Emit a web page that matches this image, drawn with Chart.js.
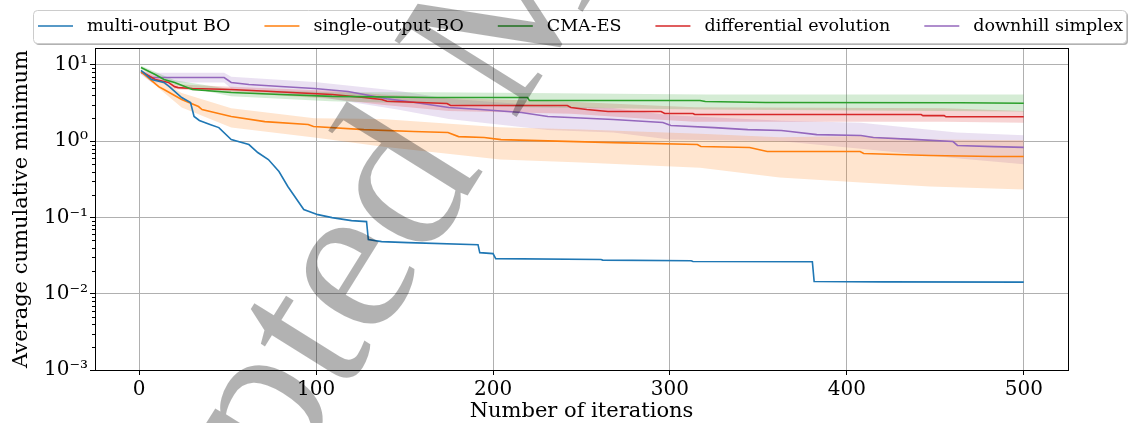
<!DOCTYPE html>
<html>
<head>
<meta charset="utf-8">
<script src="https://cdn.jsdelivr.net/npm/chart.js@4"></script>
<style>
  html, body { margin: 0; padding: 0; background: #fff; }
  #wrap { width: 1129px; height: 423px; }
</style>
</head>
<body>
<div id="wrap"><canvas id="chart" width="1129" height="423"></canvas></div>
<script>
// Data
const multiX = [1, 7, 14, 17, 24, 29, 31, 34, 40, 45, 52, 62, 67, 73, 79, 84, 93, 101, 109, 120, 128.5, 129.5, 137, 152, 191.5, 192.5, 200, 201.5, 261, 262, 312, 313, 380.5, 381.5, 420, 500];
const multiY = [8.5, 6.45, 5.9, 5.2, 3.74, 3.22, 2.11, 1.87, 1.66, 1.51, 1.05, 0.905, 0.711, 0.575, 0.40, 0.255, 0.127, 0.109, 0.0997, 0.091, 0.0883, 0.0513, 0.0482, 0.0468, 0.044, 0.0346, 0.0336, 0.0289, 0.0281, 0.0276, 0.0271, 0.0265, 0.0263, 0.0145, 0.0143, 0.0142];

const singleX = [1, 11, 14, 24, 33.5, 35.5, 42.5, 52, 71, 95.5, 98.5, 127, 155, 174.5, 180.5, 195, 204.5, 268, 315.5, 317.5, 345, 355, 407.5, 409.5, 447, 483, 500];
const singleY = [8.2, 5.2, 4.77, 3.53, 2.85, 2.6, 2.38, 2.11, 1.81, 1.66, 1.56, 1.42, 1.34, 1.30, 1.15, 1.12, 1.05, 0.96, 0.905, 0.852, 0.826, 0.732, 0.732, 0.69, 0.649, 0.63, 0.63];
const singleBandX = [1, 24, 52, 99, 137, 204, 250, 317, 362, 408, 447, 500];
const singleLo = [7.8, 2.76, 1.51, 1.12, 0.85, 0.575, 0.525, 0.45, 0.335, 0.287, 0.255, 0.232];
const singleHi = [8.6, 4.3, 2.71, 2.0, 1.95, 1.52, 1.42, 1.25, 1.13, 1.17, 1.05, 1.03];

const cmaX = [1, 9, 14, 20, 30, 52, 80, 109, 165, 219.5, 220.5, 317, 320, 354, 464, 500];
const cmaY = [9.27, 7.5, 6.45, 5.9, 4.77, 4.35, 4.11, 3.87, 3.75, 3.75, 3.42, 3.42, 3.32, 3.22, 3.19, 3.15];
const cmaBandX = [1, 20, 52, 108, 165, 220, 320, 500];
const cmaLo = [8.8, 5.5, 3.9, 3.35, 3.1, 2.8, 2.6, 2.45];
const cmaHi = [9.8, 6.3, 4.8, 4.4, 4.4, 4.3, 4.1, 4.1];

const deX = [1, 9, 16.5, 20, 22, 30, 52, 109, 127, 137, 140, 174, 176, 242, 244, 253, 265, 295, 297, 313, 314, 442, 443, 455, 456, 500];
const deY = [8.2, 6.45, 5.9, 5.2, 5.05, 4.92, 4.77, 4.1, 3.75, 3.53, 3.35, 3.12, 2.94, 2.94, 2.77, 2.61, 2.45, 2.45, 2.31, 2.31, 2.24, 2.24, 2.17, 2.17, 2.09, 2.09];
const deBandX = [1, 20, 52, 108, 137, 175, 244, 297, 314, 455, 500];
const deLo = [7.8, 4.8, 4.35, 3.6, 3.0, 2.5, 2.3, 1.9, 1.8, 1.8, 1.75];
const deHi = [8.6, 5.6, 5.2, 4.6, 4.1, 3.7, 3.3, 2.9, 2.8, 2.7, 2.5];

const simplexX = [1, 7, 48, 52, 62, 80, 99, 118, 140, 155, 175, 193, 216, 231, 268, 296, 300.5, 325, 344, 363, 368, 383, 408, 415, 440, 460, 462.5, 483, 500];
const simplexY = [7.97, 6.85, 6.85, 5.9, 5.55, 5.22, 4.92, 4.49, 3.6, 3.25, 2.77, 2.61, 2.38, 2.11, 1.93, 1.76, 1.61, 1.51, 1.42, 1.38, 1.34, 1.22, 1.19, 1.12, 1.05, 0.99, 0.88, 0.85, 0.83];
const simplexBandX = [1, 7, 48, 52, 99, 146, 175, 231, 268, 300, 363, 408, 462, 500];
const simplexLo = [7.5, 5.9, 5.9, 4.9, 3.9, 2.6, 1.95, 1.4, 1.3, 1.05, 1.0, 0.8, 0.6, 0.5];
const simplexHi = [8.4, 7.9, 7.9, 7.0, 6.0, 4.6, 3.6, 2.9, 2.7, 2.2, 1.85, 1.75, 1.3, 1.2];

const labels = ['multi-output BO', 'single-output BO', 'CMA-ES', 'differential evolution', 'downhill simplex'];
const colors = ['#1f77b4', '#ff7f0e', '#2ca02c', '#d62728', '#9467bd'];
const fills = ['rgba(31,119,180,0.2)', 'rgba(255,127,14,0.2)', 'rgba(44,160,44,0.2)', 'rgba(214,39,40,0.2)', 'rgba(148,103,189,0.2)'];

const xTicks = [0, 100, 200, 300, 400, 500];
const yTicks = [0.001, 0.01, 0.1, 1, 10];
const yTickLabels = ['10⁻³', '10⁻²', '10⁻¹', '10⁰', '10¹'];

const watermarkText = 'Accepted Manuscript';
const serif = 'DejaVu Serif';

const pts = (xs, ys) => xs.map((x, i) => ({ x: x, y: ys[i] }));

function lineSet(i, xs, ys) {
    return {
        label: labels[i],
        data: pts(xs, ys),
        borderColor: colors[i],
        borderWidth: 1.6,
        pointRadius: 0,
        tension: 0,
        fill: false,
        order: i,
        isMean: true
    };
}

function bandSet(i, xs, hi, lo) {
    return [
        { data: pts(xs, hi), borderWidth: 0, pointRadius: 0, fill: '+1', backgroundColor: fills[i], order: 10 + i },
        { data: pts(xs, lo), borderWidth: 0, pointRadius: 0, fill: false, order: 10 + i }
    ];
}

const datasets = [
    lineSet(0, multiX, multiY),
    lineSet(1, singleX, singleY),
    lineSet(2, cmaX, cmaY),
    lineSet(3, deX, deY),
    lineSet(4, simplexX, simplexY),
    ...bandSet(1, singleBandX, singleHi, singleLo),
    ...bandSet(2, cmaBandX, cmaHi, cmaLo),
    ...bandSet(3, deBandX, deHi, deLo),
    ...bandSet(4, simplexBandX, simplexHi, simplexLo)
];

// top/right spines and minor ticks on the log axis
const framePlugin = {
    id: 'frame',
    afterDatasetsDraw(chart) {
        const { ctx, chartArea: a, scales } = chart;
        ctx.save();
        ctx.strokeStyle = '#000';
        ctx.lineWidth = 1;
        ctx.strokeRect(Math.round(a.left) + 0.5, Math.round(a.top) + 0.5, Math.round(a.right - a.left), Math.round(a.bottom - a.top));
        const y = scales.y;
        ctx.beginPath();
        for (let k = -3; k <= 1; k++) {
            for (let m = 2; m <= 9; m++) {
                const v = m * Math.pow(10, k);
                if (v > y.max) continue;
                const py = Math.round(y.getPixelForValue(v)) + 0.5;
                ctx.moveTo(a.left - 3, py);
                ctx.lineTo(a.left, py);
            }
        }
        ctx.stroke();
        ctx.restore();
    }
};

// matplotlib-like legend box above the plot
const legendPlugin = {
    id: 'mplLegend',
    afterDraw(chart) {
        const ctx = chart.ctx;
        const box = { x: 33, y: 10, w: 1093, h: 33 };
        ctx.save();
        ctx.fillStyle = 'rgba(0,0,0,0.3)';
        ctx.beginPath();
        ctx.roundRect(box.x + 2, box.y + 2, box.w, box.h, 4);
        ctx.fill();
        ctx.fillStyle = '#fff';
        ctx.strokeStyle = '#cccccc';
        ctx.lineWidth = 1;
        ctx.beginPath();
        ctx.roundRect(box.x + 0.5, box.y + 0.5, box.w, box.h, 4);
        ctx.fill();
        ctx.stroke();
        ctx.font = '17.5px "' + serif + '"';
        ctx.textBaseline = 'middle';
        let x = 38;
        const cy = 26;
        chart.data.datasets.filter(d => d.isMean).forEach(d => {
            ctx.strokeStyle = d.borderColor;
            ctx.lineWidth = 1.3;
            ctx.beginPath();
            ctx.moveTo(x, cy);
            ctx.lineTo(x + 35, cy);
            ctx.stroke();
            ctx.fillStyle = '#000';
            ctx.fillText(d.label, x + 49, cy);
            x += 49 + ctx.measureText(d.label).width + 34;
        });
        ctx.restore();
    }
};

// big grey watermark drawn over everything
const watermarkPlugin = {
    id: 'watermark',
    afterDraw(chart) {
        const ctx = chart.ctx;
        const size = 220;
        ctx.save();
        ctx.font = size + 'px "Liberation Serif"';
        const adv = ctx.measureText(watermarkText.slice(0, 6)).width;
        const we = ctx.measureText('e').width;
        const th = -58 * Math.PI / 180;
        const cx = adv + we / 2, cyy = -0.23 * size;
        const ox = 357 - (cx * Math.cos(th) - cyy * Math.sin(th));
        const oy = 277 - (cx * Math.sin(th) + cyy * Math.cos(th));
        ctx.translate(ox, oy);
        ctx.rotate(th);
        ctx.fillStyle = 'rgba(0,0,0,0.3)';
        ctx.fillText(watermarkText, 0, 0);
        ctx.restore();
    }
};

const tickFont = { family: serif, size: 20 };

new Chart(document.getElementById('chart').getContext('2d'), {
    type: 'line',
    data: { datasets: datasets },
    options: {
        responsive: false,
        animation: false,
        devicePixelRatio: 1,
        layout: { padding: { top: 48, right: 61, left: 0, bottom: 0 } },
        plugins: {
            legend: { display: false },
            tooltip: { enabled: false }
        },
        scales: {
            x: {
                type: 'linear',
                min: -25,
                max: 525,
                afterBuildTicks: s => { s.ticks = xTicks.map(v => ({ value: v })); },
                afterFit: s => { s.height = 53; },
                grid: { color: '#b0b0b0', lineWidth: 1, tickLength: 5, tickColor: '#000' },
                border: { color: '#000', width: 1 },
                ticks: { color: '#000', font: tickFont, padding: 3, maxRotation: 0, autoSkip: false },
                title: { display: true, text: 'Number of iterations', color: '#000', font: { family: serif, size: 21, lineHeight: 1.05 }, padding: { top: 0, bottom: 0 } }
            },
            y: {
                type: 'logarithmic',
                min: 0.001,
                max: 16.7,
                afterBuildTicks: s => { s.ticks = yTicks.map(v => ({ value: v })); },
                afterFit: s => { s.width = 95; },
                grid: { color: '#b0b0b0', lineWidth: 1, tickLength: 5, tickColor: '#000' },
                border: { color: '#000', width: 1 },
                ticks: {
                    color: '#000', font: tickFont, padding: 2, autoSkip: false,
                    callback: (v, i) => yTickLabels[i]
                },
                title: { display: true, text: 'Average cumulative minimum', color: '#000', font: { family: serif, size: 21 }, padding: { top: 9, bottom: 0 } }
            }
        }
    },
    plugins: [framePlugin, legendPlugin, watermarkPlugin]
});
</script>
</body>
</html>
